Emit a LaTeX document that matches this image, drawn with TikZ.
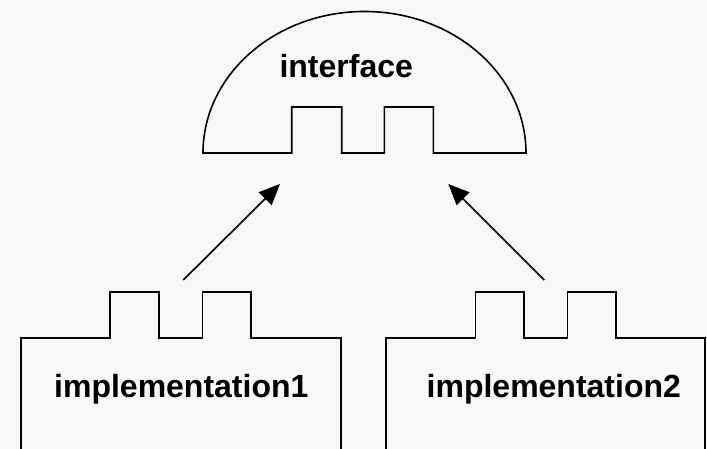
\documentclass[tikz,border=0pt]{standalone}
\usepackage{fontspec}
\setmainfont{Liberation Sans}
\usetikzlibrary{arrows.meta}
\definecolor{bg}{HTML}{F8F8F8}
\tikzset{
  outline/.style={line width=1.6pt, line join=miter},
  lbl/.style={font=\bfseries\fontsize{32}{38}\selectfont, anchor=base, inner sep=0pt},
  realize/.style={line width=1.6pt, -{Triangle[length=21pt,width=18pt]}}
}
\begin{document}
\begin{tikzpicture}[x=1pt,y=1pt]
\useasboundingbox (0,0) rectangle (707,449);
\fill[bg] (0,0) rectangle (707,449);
\clip (0,0) rectangle (707,449);
% interface
\draw[outline] (203,296) arc[start angle=180, end angle=0, x radius=161.5, y radius=141.5]
  -- (433.3,296) -- (433.3,342) -- (384.3,342) -- (384.3,296) -- (341.7,296)
  -- (341.7,342) -- (291.7,342) -- (291.7,296) -- cycle;
\node[lbl] (iface) at (346.2,371) {interface};
% implementation 1
\draw[outline] (20.7,-10) -- (20.7,111) -- (110,111) -- (110,157) -- (159,157) -- (159,111)
  -- (202.3,111) -- (202.3,157) -- (251,157) -- (251,111) -- (340.7,111) -- (340.7,-10);
\node[lbl] (impl1) at (181.3,51) {implementation1};
% implementation 2
\draw[outline] (385.7,-10) -- (385.7,111) -- (475.3,111) -- (475.3,157) -- (524,157) -- (524,111)
  -- (567.3,111) -- (567.3,157) -- (616,157) -- (616,111) -- (705,111) -- (705,-10);
\node[lbl] (impl2) at (553.8,51) {implementation2};
% arrows
\coordinate (t1) at (183.3,169);
\coordinate (h1) at (280,265);
\coordinate (t2) at (544.3,169);
\coordinate (h2) at (448.3,265);
\draw[realize] (t1) -- (h1);
\draw[realize] (t2) -- (h2);
\end{tikzpicture}
\end{document}
